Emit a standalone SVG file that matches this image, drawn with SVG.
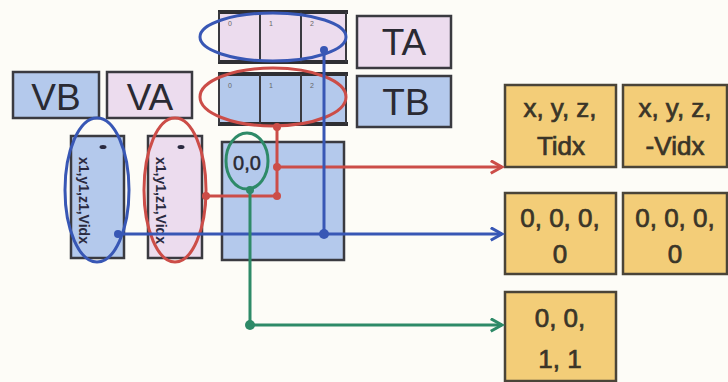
<svg xmlns="http://www.w3.org/2000/svg" width="728" height="382" viewBox="0 0 728 382">
<defs>
<style>
.lbl{font-family:"Liberation Sans",Arial,sans-serif;font-size:37px;fill:#2a2a33;text-anchor:middle}
.out{font-family:"Liberation Sans",Arial,sans-serif;font-size:26px;fill:#3a3528;stroke:#3a3528;stroke-width:0.7;text-anchor:middle}
.box{stroke:#3a3a40;stroke-width:2.5}
.blue{fill:#b4c9ec}
.pink{fill:#ecdcee}
.yel{fill:#f3cd78;stroke:#4a4438;stroke-width:2.5}
.tiny{font-family:"Liberation Sans",Arial,sans-serif;font-size:7px;fill:#666;text-anchor:middle}
.vt{font-family:"Liberation Sans",Arial,sans-serif;font-size:14px;font-weight:bold;fill:#2a2a40}
.cr{fill:none;stroke:#cc4d48;stroke-width:3}
.cb{fill:none;stroke:#3857b5;stroke-width:3}
.cg{fill:none;stroke:#2e8a68;stroke-width:3}
</style>
<marker id="arr" viewBox="0 0 12 12" refX="10" refY="6" markerWidth="5" markerHeight="5" orient="auto" markerUnits="strokeWidth">
<path d="M1,1 L10,6 L1,11" fill="none" stroke="#cc4d48" stroke-width="2.5"/>
</marker>
<marker id="arb" viewBox="0 0 12 12" refX="10" refY="6" markerWidth="5" markerHeight="5" orient="auto" markerUnits="strokeWidth">
<path d="M1,1 L10,6 L1,11" fill="none" stroke="#3857b5" stroke-width="2.5"/>
</marker>
<marker id="arg" viewBox="0 0 12 12" refX="10" refY="6" markerWidth="5" markerHeight="5" orient="auto" markerUnits="strokeWidth">
<path d="M1,1 L10,6 L1,11" fill="none" stroke="#2e8a68" stroke-width="2.5"/>
</marker>
</defs>
<rect width="728" height="382" fill="#fdfcf7"/>

<g id="VB"><rect x="13" y="72" width="86" height="46" class="box blue"/><text x="56" y="110" class="lbl">VB</text></g>
<g id="VA"><rect x="107" y="72" width="85" height="46" class="box pink"/><text x="150" y="110" class="lbl">VA</text></g>
<g id="TA"><rect x="357" y="16" width="94" height="52" class="box pink"/><text x="404" y="55" class="lbl">TA</text></g>
<g id="TB"><rect x="357" y="76" width="94" height="51" class="box blue"/><text x="406" y="115" class="lbl">TB</text></g>

<g id="TA-array">
<rect x="218" y="12" width="128" height="50" class="pink"/>
<path d="M218,12 H348 M218,62 H348" stroke="#2f2f33" stroke-width="4"/>
<path d="M219,12 V62 M260,12 V62 M301,12 V62 M346,12 V62" stroke="#3a3a40" stroke-width="2"/>
<text x="230" y="26" class="tiny">0</text><text x="271" y="26" class="tiny">1</text><text x="312" y="26" class="tiny">2</text>
<ellipse cx="273" cy="37" rx="73" ry="24" class="cb"/>
</g>
<g id="TB-array">
<rect x="218" y="74" width="128" height="50" class="blue"/>
<path d="M218,74 H348 M218,124 H348" stroke="#2f2f33" stroke-width="4"/>
<path d="M219,74 V124 M260,74 V124 M301,74 V124 M346,74 V124" stroke="#3a3a40" stroke-width="2"/>
<text x="230" y="88" class="tiny">0</text><text x="271" y="88" class="tiny">1</text><text x="312" y="88" class="tiny">2</text>
<ellipse cx="273" cy="97" rx="73" ry="29" class="cr"/>
</g>

<g id="VB-col">
<rect x="71" y="136" width="53" height="122" class="box blue"/>
<ellipse cx="103" cy="147" rx="3.5" ry="2" fill="#2a2a40"/>
<text transform="translate(79,157) rotate(90)" class="vt">x1,y1,z1,Vidx</text>
<ellipse cx="97" cy="190" rx="32" ry="72" class="cb"/>
</g>
<g id="VA-col">
<rect x="148" y="136" width="54" height="122" class="box pink"/>
<ellipse cx="181" cy="147" rx="3.5" ry="2" fill="#2a2a40"/>
<text transform="translate(156,157) rotate(90)" class="vt">x1,y1,z1,Vidx</text>
<ellipse cx="175" cy="190" rx="31" ry="72" class="cr"/>
</g>

<g id="cell">
<rect x="222" y="142" width="122" height="118" class="box blue"/>
<text x="247" y="170" font-family="Liberation Sans,Arial,sans-serif" font-size="20" fill="#2a2a33" stroke="#2a2a33" stroke-width="0.5" text-anchor="middle">0,0</text>
<ellipse cx="247" cy="161" rx="21" ry="28" class="cg"/>
</g>

<g id="out1"><rect x="505" y="85" width="111" height="82" class="yel"/><text x="560" y="117" class="out">x, y, z,</text><text x="561" y="155" class="out">Tidx</text></g>
<g id="out2"><rect x="623" y="85" width="104" height="82" class="yel"/><text x="675" y="117" class="out">x, y, z,</text><text x="675" y="155" class="out">-Vidx</text></g>
<g id="out3"><rect x="505" y="193" width="111" height="81" class="yel"/><text x="560" y="227" class="out">0, 0, 0,</text><text x="560" y="263" class="out">0</text></g>
<g id="out4"><rect x="623" y="193" width="104" height="81" class="yel"/><text x="675" y="227" class="out">0, 0, 0,</text><text x="675" y="263" class="out">0</text></g>
<g id="out5"><rect x="505" y="292" width="111" height="89" class="yel"/><text x="560" y="327" class="out">0, 0,</text><text x="560" y="368" class="out">1, 1</text></g>

<g id="connectors">
<path d="M277,127 V196 M206,196 H277" class="cr"/>
<path d="M277,167 H502" class="cr" marker-end="url(#arr)"/>
<circle cx="277" cy="127" r="4" fill="#cc4d48"/><circle cx="277" cy="167" r="4" fill="#cc4d48"/><circle cx="277" cy="196" r="4" fill="#cc4d48"/><circle cx="206" cy="196" r="4" fill="#cc4d48"/>
<path d="M324,50 V234" class="cb"/>
<path d="M118,234 H502" class="cb" marker-end="url(#arb)"/>
<circle cx="324" cy="50" r="4" fill="#3857b5"/><circle cx="324" cy="234" r="5" fill="#3857b5"/><circle cx="118" cy="234" r="4" fill="#3857b5"/>
<path d="M250,190 V325 H502" class="cg" marker-end="url(#arg)"/>
<circle cx="250" cy="190" r="4" fill="#2e8a68"/><circle cx="250" cy="325" r="5" fill="#2e8a68"/>
</g>
</svg>
